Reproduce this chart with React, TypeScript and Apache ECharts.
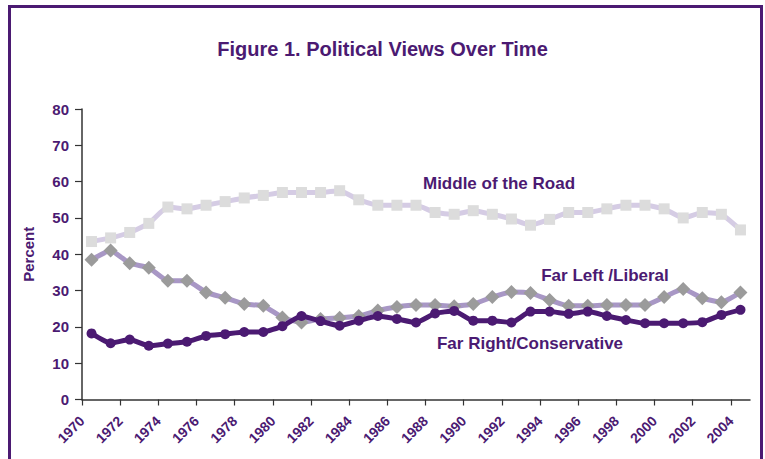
import React, { useEffect, useRef } from "react";
import * as echarts from "echarts";

const years: string[] = [
  "1970","1971","1972","1973","1974","1975","1976","1977","1978","1979",
  "1980","1981","1982","1983","1984","1985","1986","1987","1988","1989",
  "1990","1991","1992","1993","1994","1995","1996","1997","1998","1999",
  "2000","2001","2002","2003","2004",
];

const tickYears: number[] = [
  1970, 1972, 1974, 1976, 1978, 1980, 1982, 1984, 1986, 1988,
  1990, 1992, 1994, 1996, 1998, 2000, 2002, 2004,
];

const middleOfRoad: number[] = [
  43.5, 44.5, 46, 48.5, 53, 52.5, 53.5, 54.5, 55.5, 56.2,
  57, 57, 57, 57.5, 55, 53.5, 53.5, 53.5, 51.5, 51,
  52, 51, 49.7, 48, 49.6, 51.5, 51.5, 52.5, 53.5, 53.5,
  52.5, 50, 51.5, 51, 46.7,
];

const farLeft: number[] = [
  38.5, 41, 37.5, 36.3, 32.7, 32.7, 29.5, 28, 26.3, 25.8,
  22.6, 21.2, 22.2, 22.5, 23, 24.5, 25.5, 26, 26, 25.7,
  26.3, 28.2, 29.6, 29.3, 27.4, 25.8, 25.8, 26, 26, 26,
  28.2, 30.4, 27.9, 26.8, 29.5,
];

const farRight: number[] = [
  18.2, 15.5, 16.5, 14.8, 15.4, 15.9, 17.5, 18, 18.6, 18.6,
  20.2, 23, 21.6, 20.3, 21.7, 23, 22.2, 21.2, 23.7, 24.4,
  21.7, 21.7, 21.2, 24.2, 24.2, 23.6, 24.2, 23, 21.9, 21,
  21, 21, 21.3, 23.3, 24.7,
];

const PURPLE = "#4b1a72";
const FONT = "'Liberation Sans', Arial, Helvetica, sans-serif";

export default function App() {
  const ref = useRef<HTMLDivElement>(null);
  useEffect(() => {
    if (!ref.current) return;
    const chart = echarts.init(ref.current, undefined, { renderer: "svg" });
    chart.setOption({
      animation: false,
      backgroundColor: "#ffffff",
      textStyle: { fontFamily: FONT },
      title: {
        text: "Figure 1. Political Views Over Time",
        left: "center",
        top: 34,
        textStyle: { color: PURPLE, fontSize: 20, fontWeight: "bold", fontFamily: FONT },
      },
      graphic: [
        {
          type: "rect",
          shape: { x: 9.5, y: 6.5, width: 752, height: 470 },
          style: { fill: "none", stroke: PURPLE, lineWidth: 3 },
          silent: true,
          z: 20,
        },
        {
          type: "text",
          x: 499, y: 183,
          style: { text: "Middle of the Road", fill: PURPLE, font: `bold 17px ${FONT}`, align: "center", verticalAlign: "middle" },
          z: 10,
        },
        {
          type: "text",
          x: 605, y: 275,
          style: { text: "Far Left /Liberal", fill: PURPLE, font: `bold 17px ${FONT}`, align: "center", verticalAlign: "middle" },
          z: 10,
        },
        {
          type: "text",
          x: 530, y: 343,
          style: { text: "Far Right/Conservative", fill: PURPLE, font: `bold 17px ${FONT}`, align: "center", verticalAlign: "middle" },
          z: 10,
        },
      ],
      grid: { left: 82, right: 15, top: 109, bottom: 59.5, containLabel: false },
      xAxis: [
        {
          type: "category",
          data: years,
          boundaryGap: true,
          show: false,
        },
        {
          type: "value",
          min: 1970,
          max: 2005,
          position: "bottom",
          axisLine: { show: true, onZero: false, lineStyle: { color: "#333333", width: 1.5 } },
          axisTick: { show: true, length: 6, customValues: tickYears, lineStyle: { color: "#333333", width: 1.2 } },
          axisLabel: {
            customValues: tickYears,
            rotate: 45,
            color: PURPLE,
            fontSize: 14,
            fontWeight: "bold",
            fontFamily: FONT,
            margin: 19,
            formatter: (v: number) => String(v),
          },
          splitLine: { show: false },
        },
      ],
      yAxis: {
        type: "value",
        min: 0,
        max: 80,
        interval: 10,
        name: "Percent",
        nameLocation: "middle",
        nameGap: 46,
        nameTextStyle: { color: PURPLE, fontSize: 15, fontWeight: "bold", fontFamily: FONT },
        axisLine: { show: true, lineStyle: { color: "#333333", width: 1.5 } },
        axisTick: { show: true, length: 7, lineStyle: { color: "#333333", width: 1.2 } },
        axisLabel: { color: PURPLE, fontSize: 15, fontWeight: "bold", fontFamily: FONT, margin: 13 },
        splitLine: { show: false },
      },
      series: [
        {
          name: "Middle of the Road",
          type: "line",
          xAxisIndex: 0,
          data: middleOfRoad,
          smooth: 0.15,
          showAllSymbol: true,
          symbol: "rect",
          symbolSize: 11,
          lineStyle: { color: "#d5cce4", width: 5 },
          itemStyle: { color: "#dcdcdc" },
          z: 2,
        },
        {
          name: "Far Left /Liberal",
          type: "line",
          xAxisIndex: 0,
          data: farLeft,
          smooth: 0.15,
          showAllSymbol: true,
          symbol: "diamond",
          symbolSize: 14,
          lineStyle: { color: "#a897c5", width: 5 },
          itemStyle: { color: "#9b9b9b" },
          z: 3,
        },
        {
          name: "Far Right/Conservative",
          type: "line",
          xAxisIndex: 0,
          data: farRight,
          smooth: 0.15,
          showAllSymbol: true,
          symbol: "circle",
          symbolSize: 10,
          lineStyle: { color: "#4b1a72", width: 5 },
          itemStyle: { color: "#4b1a72" },
          z: 4,
        },
      ],
    });
    return () => chart.dispose();
  }, []);
  return (
    <div
      ref={ref}
      style={{ position: "fixed", left: 0, top: 0, width: 765, height: 459 }}
    />
  );
}
